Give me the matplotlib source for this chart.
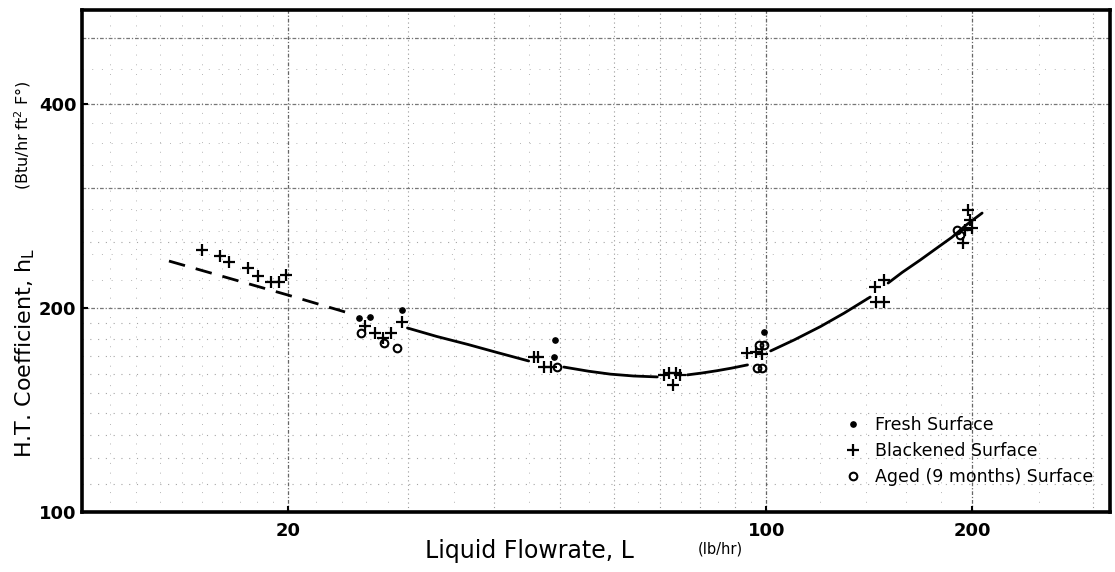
import matplotlib
matplotlib.use("Agg")
import matplotlib.pyplot as plt
import numpy as np
from matplotlib.lines import Line2D
from matplotlib.ticker import NullLocator, FixedLocator, FixedFormatter

# ---------------- data ----------------
fresh_L = [25.4, 26.4, 29.4, 49.2, 48.9, 99.2]
fresh_h = [193.1, 193.7, 198.6, 179.4, 169.3, 184.5]

blackened_L = [15.0, 15.9, 16.4, 17.5, 18.1, 18.9, 19.4, 19.9,
               25.9, 26.8, 28.3, 27.5, 29.4,
               45.8, 46.4, 47.3, 48.4,
               70.9, 72.1, 73.7, 74.9, 73.1,
               93.8, 96.5, 98.6,
               144.3, 148.4, 144.8, 148.6,
               197.5, 198.6, 195.3, 199.8, 194.2]
blackened_h = [243.5, 238.8, 233.5, 229.3, 222.9, 218.6, 218.6, 223.7,
               188.1, 183.7, 183.5, 180.6, 190.8,
               169.3, 169.3, 163.8, 163.8,
               159.3, 160.2, 160.2, 159.3, 153.9,
               171.5, 172.0, 171.2,
               214.9, 219.5, 204.2, 204.2,
               278.9, 269.6, 260.6, 262.1, 249.0]

aged_L = [25.6, 27.65, 28.9, 49.5, 97.5, 99.2, 97.0, 98.6, 190.0, 192.0]
aged_h = [183.5, 177.4, 174.4, 163.8, 176.4, 176.4, 163.1, 163.1, 260.6, 256.0]

# correlation curve: dashed extrapolation and hand-drawn solid fit (None = pen lifted)
dashed_L = [13.4, 20.0, 24.8]
dashed_h = [234.5, 208.9, 195.9]
curve_L = [29.9, 33.0, 36.6, 40.5, 44.96, None,
           50.6, 55.0, 59.2, 64.0, 69.3, None,
           76.7, 80.5, 84.8, 89.0, 93.9, None,
           101.5, 110.0, 120.0, 130.0, 141.9, None,
           150.7, 158.0, 167.9, 177.0, 187.0, 196.0, 206.8]
curve_h = [186.8, 181.5, 176.7, 171.8, 167.0, None,
           163.6, 161.3, 159.7, 158.7, 158.2, None,
           159.3, 160.3, 161.6, 163.0, 164.8, None,
           172.8, 179.5, 187.7, 196.5, 207.5, None,
           217.6, 225.6, 235.3, 244.5, 254.4, 265.0, 276.0]

x_ticks = [20, 100, 200]
x_tick_labels = ["20", "100", "200"]
y_ticks = [100, 200, 400]
y_tick_labels = ["100", "200", "400"]

legend_labels = ["Fresh Surface", "Blackened Surface", "Aged (9 months) Surface"]

# graph-paper rulings
paper_x_main = [30, 40, 50, 60, 70, 80, 90, 300]
paper_x_dark = [20, 100, 200]
paper_x_fine = [11, 12, 13, 14, 15, 16, 17, 18, 19, 22, 24, 26, 28,
                35, 45, 55, 65, 75, 85, 95,
                120, 140, 160, 180, 250]
paper_y_main = [110, 120, 130, 140, 150, 160, 170, 180, 190, 250]
paper_y_dark = [200, 300, 400, 500]
paper_y_fine = [220, 240, 260, 280, 325, 350, 375, 450]

# ---------------- figure ----------------
W, H = 1115, 572
fig = plt.figure(figsize=(W / 100, H / 100), dpi=100)
ax = fig.add_axes([82 / W, (H - 512) / H, (1110 - 82) / W, (512 - 10) / H])
ax.set_xscale("log")
ax.set_yscale("log")
ax.set_xlim(10, 318)
ax.set_ylim(100, 550)

# paper grid
for v in paper_x_fine:
    ax.axvline(v, color="#b5b5b5", lw=0.7, ls=(0, (1, 9)), zorder=0)
for v in paper_y_fine:
    ax.axhline(v, color="#b5b5b5", lw=0.7, ls=(0, (1, 9)), zorder=0)
for v in paper_x_main:
    ax.axvline(v, color="#999999", lw=0.8, ls=(0, (1, 3)), zorder=0)
for v in paper_y_main:
    ax.axhline(v, color="#a5a5a5", lw=0.8, ls=(0, (1, 6)), zorder=0)
for v in paper_x_dark:
    ax.axvline(v, color="#666666", lw=0.9, ls=(0, (3, 1.5, 1, 1.5)), zorder=0)
for v in paper_y_dark:
    ax.axhline(v, color="#777777", lw=0.9, ls=(0, (3, 1.5, 1, 1.5)), zorder=0)

# curves
ax.plot(dashed_L, dashed_h, color="black", lw=2.0, ls=(0, (6, 4)), zorder=2)
cL = np.array([np.nan if v is None else v for v in curve_L], dtype=float)
cH = np.array([np.nan if v is None else v for v in curve_h], dtype=float)
ax.plot(cL, cH, color="black", lw=2.0, solid_capstyle="round",
        solid_joinstyle="round", zorder=2)

# points
ax.plot(fresh_L, fresh_h, ls="none", marker="o", ms=3.8, color="black", zorder=3)
ax.plot(blackened_L, blackened_h, ls="none", marker="+", ms=8, mew=1.6, color="black", zorder=3)
ax.plot(aged_L, aged_h, ls="none", marker="o", ms=5.5, mfc="none", mec="black", mew=1.5, zorder=3)

# axes styling
for s in ax.spines.values():
    s.set_linewidth(2.6)
    s.set_color("black")
ax.xaxis.set_major_locator(FixedLocator(x_ticks))
ax.xaxis.set_major_formatter(FixedFormatter(x_tick_labels))
ax.yaxis.set_major_locator(FixedLocator(y_ticks))
ax.yaxis.set_major_formatter(FixedFormatter(y_tick_labels))
ax.xaxis.set_minor_locator(NullLocator())
ax.yaxis.set_minor_locator(NullLocator())
ax.tick_params(axis="both", which="major", direction="in", length=4, width=1.5,
               labelsize=13)
ax.tick_params(axis="x", pad=7)
ax.tick_params(axis="y", pad=4)
for lab in ax.get_xticklabels() + ax.get_yticklabels():
    lab.set_fontweight("bold")

# axis titles
fig.text(529 / W, 1 - 551 / H, "Liquid Flowrate, L", fontsize=17,
         ha="center", va="center")
fig.text(720 / W, 1 - 549 / H, "(lb/hr)", fontsize=10.5, ha="center", va="center")
fig.text(25 / W, 1 - 353 / H, "H.T. Coefficient, h$_\\mathregular{L}$", fontsize=16,
         rotation=90, ha="center", va="center")
fig.text(23 / W, 1 - 135 / H, "(Btu/hr ft$^\\mathregular{2}$ F°)", fontsize=11.5,
         rotation=90, ha="center", va="center")

# legend
handles = [
    Line2D([], [], ls="none", marker="o", ms=3.8, color="black"),
    Line2D([], [], ls="none", marker="+", ms=8, mew=1.6, color="black"),
    Line2D([], [], ls="none", marker="o", ms=5.5, mfc="none", mec="black", mew=1.5),
]
ax.legend(handles, legend_labels, loc="upper left",
          bbox_to_anchor=(844 / W, 1 - 416 / H), bbox_transform=fig.transFigure,
          frameon=False, fontsize=12.5, handlelength=1.0, handletextpad=0.8,
          labelspacing=0.45, borderpad=0, borderaxespad=0, numpoints=1)

fig.savefig("out.png", dpi=100)
